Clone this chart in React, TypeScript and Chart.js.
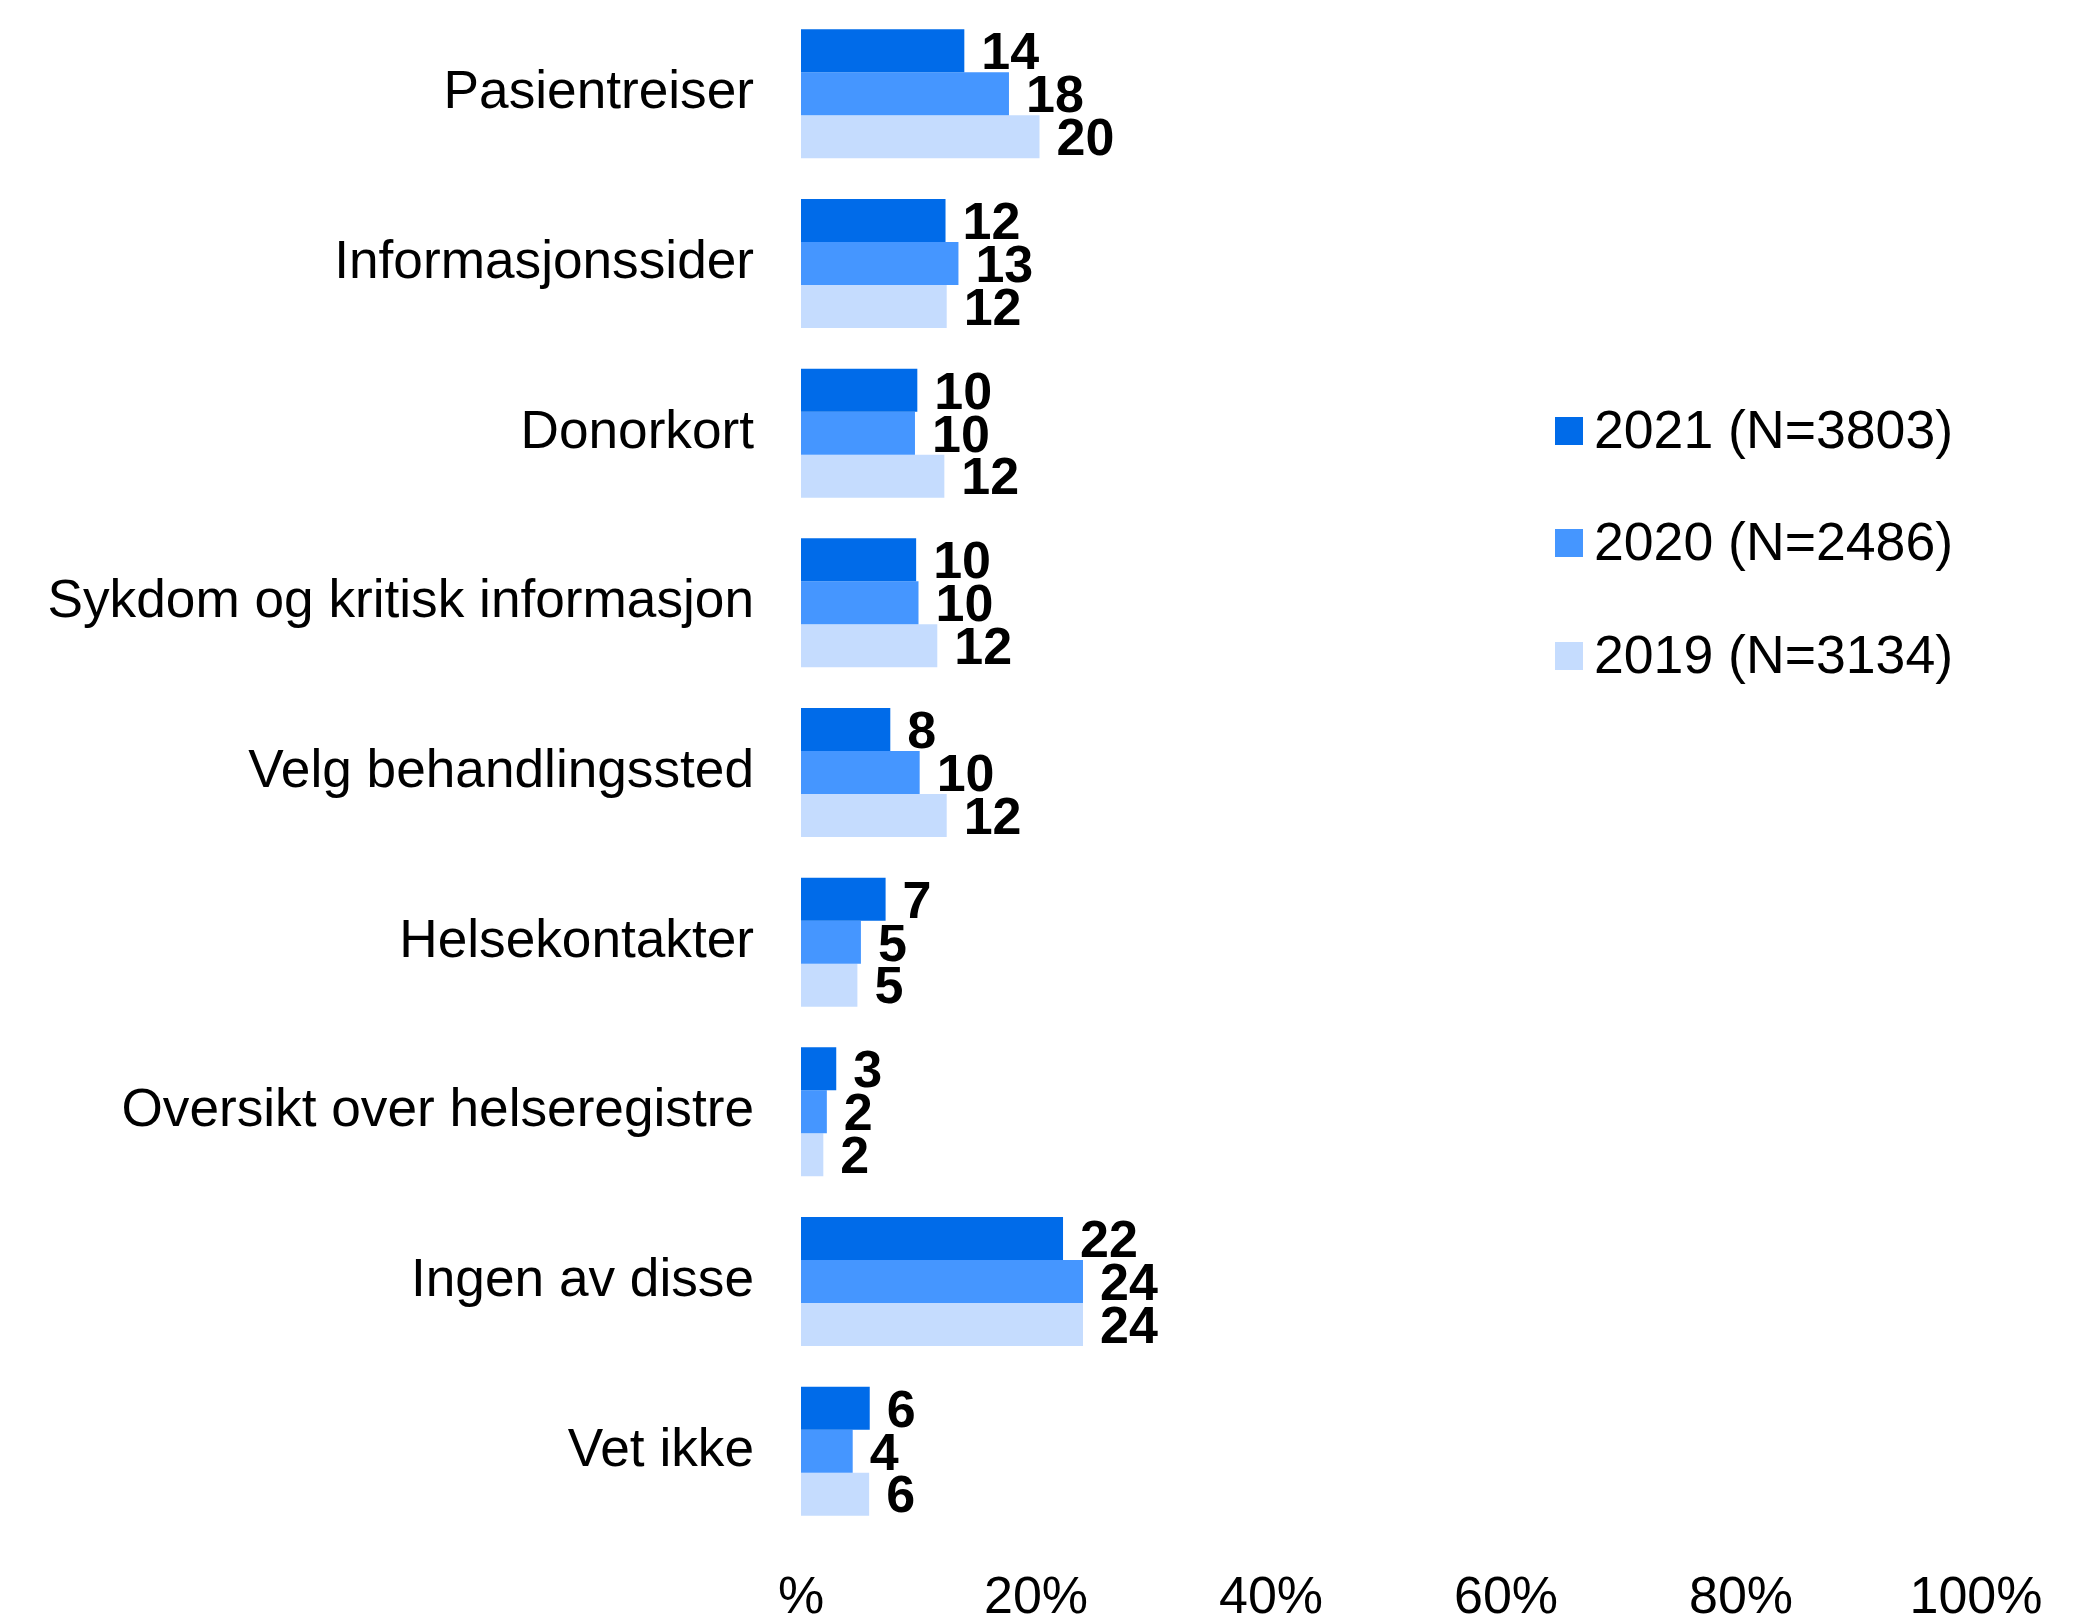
import React, { useEffect, useRef } from "react";
import { Chart, registerables } from "chart.js";

Chart.register(...registerables);

const categories = [
  "Pasientreiser",
  "Informasjonssider",
  "Donorkort",
  "Sykdom og kritisk informasjon",
  "Velg behandlingssted",
  "Helsekontakter",
  "Oversikt over helseregistre",
  "Ingen av disse",
  "Vet ikke",
];

const seriesLabels = ["2021 (N=3803)", "2020 (N=2486)", "2019 (N=3134)"];
const values2021 = [13.9, 12.3, 9.9, 9.8, 7.6, 7.2, 3.0, 22.3, 5.85];
const values2020 = [17.7, 13.4, 9.7, 10.0, 10.1, 5.1, 2.2, 24.0, 4.4];
const values2019 = [20.3, 12.4, 12.2, 11.6, 12.4, 4.8, 1.9, 24.0, 5.8];
const xTickLabels = ["%", "20%", "40%", "60%", "80%", "100%"];

const colors = ["#006BE9", "#4596FF", "#C5DCFE"];
const FONT = "'Liberation Sans', Arial, Helvetica, sans-serif";

const valueLabelPlugin = {
  id: "valueLabels",
  afterDatasetsDraw(chart: any) {
    const ctx = chart.ctx;
    ctx.save();
    ctx.font = `bold 52px ${FONT}`;
    ctx.fillStyle = "#000";
    ctx.textAlign = "left";
    ctx.textBaseline = "middle";
    chart.data.datasets.forEach((ds: any, di: number) => {
      const meta = chart.getDatasetMeta(di);
      meta.data.forEach((el: any, i: number) => {
        const v = ds.data[i];
        ctx.fillText(String(Math.round(v)), el.x + 17, el.y + 4);
      });
    });
    ctx.restore();
  },
};

const legendPlugin = {
  id: "customLegend",
  afterDraw(chart: any) {
    const ctx = chart.ctx;
    const ys = [431, 543, 656];
    ctx.save();
    ctx.font = `53.6px ${FONT}`;
    ctx.textAlign = "left";
    ctx.textBaseline = "middle";
    chart.data.datasets.forEach((ds: any, i: number) => {
      const y = ys[i];
      ctx.fillStyle = ds.backgroundColor;
      ctx.fillRect(1555, y - 14, 28, 28);
      ctx.fillStyle = "#000";
      ctx.fillText(ds.label, 1594, y + 2);
    });
    ctx.restore();
  },
};

export default function App() {
  const ref = useRef<HTMLCanvasElement | null>(null);
  useEffect(() => {
    document.body.style.margin = "0";
    if (!ref.current) return;
    const chart = new Chart(ref.current, {
      type: "bar",
      data: {
        labels: categories,
        datasets: [
          { label: seriesLabels[0], data: values2021, backgroundColor: colors[0] },
          { label: seriesLabels[1], data: values2020, backgroundColor: colors[1] },
          { label: seriesLabels[2], data: values2019, backgroundColor: colors[2] },
        ],
      },
      options: {
        indexAxis: "y",
        animation: false,
        responsive: true,
        maintainAspectRatio: false,
        layout: { padding: { top: 9, right: 124, bottom: 0, left: 0 } },
        datasets: {
          bar: { categoryPercentage: 0.76, barPercentage: 1.0, borderWidth: 0 },
        },
        plugins: {
          legend: { display: false },
          tooltip: { enabled: false },
        },
        scales: {
          x: {
            min: 0,
            max: 100,
            ticks: {
              stepSize: 20,
              color: "#000",
              padding: 31,
              maxRotation: 0,
              autoSkip: false,
              font: { family: FONT, size: 52 },
              callback: (_v: any, i: number) => xTickLabels[i],
            },
            grid: { display: false, drawTicks: false },
            border: { display: false },
            afterFit: (s: any) => {
              s.height = 85;
              s.paddingLeft = 0;
              s.paddingRight = 0;
            },
          },
          y: {
            ticks: {
              color: "#000",
              padding: 47,
              autoSkip: false,
              font: { family: FONT, size: 53.2 },
            },
            grid: { display: false, drawTicks: false },
            border: { display: false },
            afterFit: (s: any) => {
              s.width = 801;
              s.paddingTop = 0;
              s.paddingBottom = 0;
            },
          },
        },
      },
      plugins: [valueLabelPlugin, legendPlugin],
    } as any);
    return () => chart.destroy();
  }, []);
  return (
    <div style={{ width: 2100, height: 1621, position: "relative" }}>
      <canvas ref={ref} />
    </div>
  );
}
